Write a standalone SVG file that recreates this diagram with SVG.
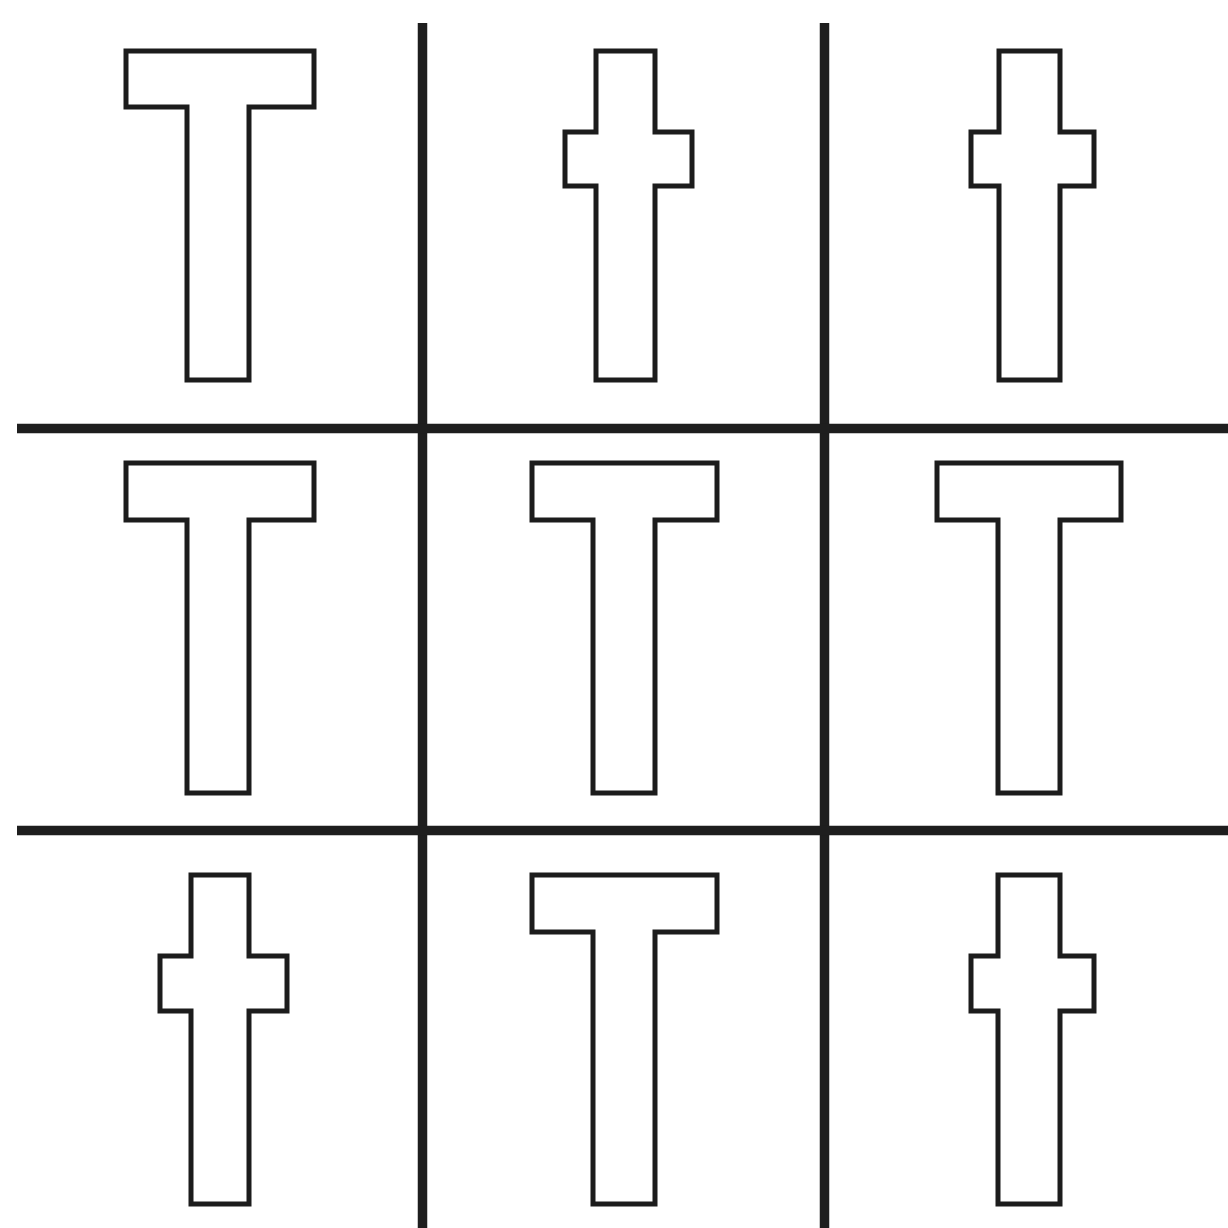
<svg xmlns="http://www.w3.org/2000/svg" width="1228" height="1228" viewBox="0 0 1228 1228">
<style>
.shape{fill:#fff;stroke:#1c1c1c;stroke-width:5;stroke-linejoin:miter}
.grid{stroke:#1e1e1e;stroke-width:9.5;fill:none}
</style>
<rect width="1228" height="1228" fill="#fff"/>
<g id="connectors">
<line class="grid" x1="422.5" y1="23" x2="422.5" y2="1228"/>
<line class="grid" x1="824.5" y1="23" x2="824.5" y2="1228"/>
<line class="grid" x1="17" y1="428.5" x2="1228" y2="428.5"/>
<line class="grid" x1="17" y1="830.5" x2="1228" y2="830.5"/>
</g>
<g id="cell-1-1"><path class="shape" d="M126,51 H314 V107 H249 V380 H187 V107 H126 Z"/></g>
<g id="cell-1-2"><path class="shape" d="M596,51 H655 V132 H692 V186 H655 V380 H596 V186 H565 V132 H596 Z"/></g>
<g id="cell-1-3"><path class="shape" d="M999,51 H1060 V132 H1094 V186 H1060 V380 H999 V186 H971 V132 H999 Z"/></g>
<g id="cell-2-1"><path class="shape" d="M126,463 H314 V520 H249 V793 H187 V520 H126 Z"/></g>
<g id="cell-2-2"><path class="shape" d="M532,463 H717 V520 H655 V793 H593 V520 H532 Z"/></g>
<g id="cell-2-3"><path class="shape" d="M937,463 H1121 V520 H1060 V793 H998 V520 H937 Z"/></g>
<g id="cell-3-1"><path class="shape" d="M191,875 H249 V956 H287 V1011 H249 V1204 H191 V1011 H160 V956 H191 Z"/></g>
<g id="cell-3-2"><path class="shape" d="M532,875 H717 V932 H655 V1204 H593 V932 H532 Z"/></g>
<g id="cell-3-3"><path class="shape" d="M998,875 H1060 V956 H1094 V1011 H1060 V1204 H998 V1011 H971 V956 H998 Z"/></g>
</svg>
